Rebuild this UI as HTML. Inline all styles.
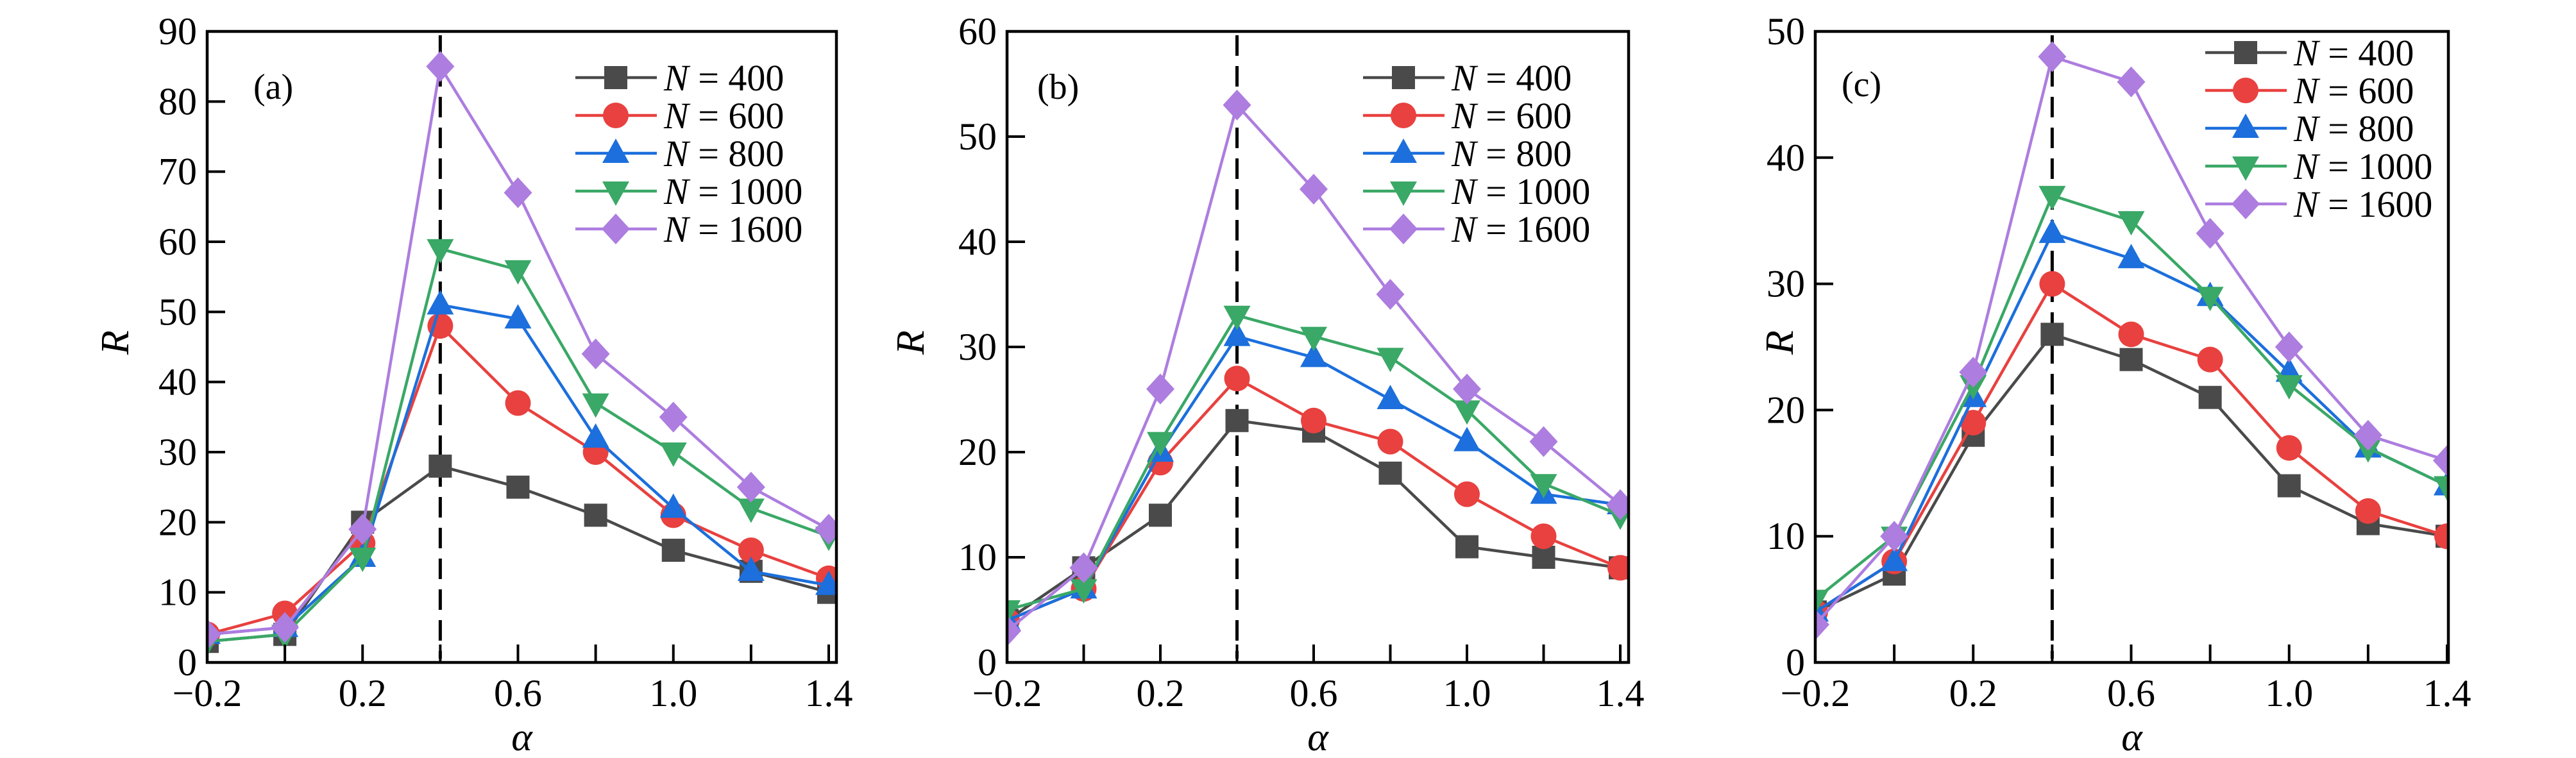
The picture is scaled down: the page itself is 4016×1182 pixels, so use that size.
<!DOCTYPE html>
<html><head><meta charset="utf-8">
<style>
html,body{margin:0;padding:0;background:#fff;}
svg{display:block;font-family:"Liberation Serif","DejaVu Serif",serif;}
</style></head>
<body>
<svg id="fig" width="4016" height="1182" viewBox="0 0 4016 1182" xmlns="http://www.w3.org/2000/svg"></svg>
<script>
const xValues = [-0.2, 0, 0.2, 0.4, 0.6, 0.8, 1.0, 1.2, 1.4];
const seriesNames = ["N = 400", "N = 600", "N = 800", "N = 1000", "N = 1600"];
const nValues = ["400", "600", "800", "1000", "1600"];
const xTickLabels = ["\u22120.2", "0.2", "0.6", "1.0", "1.4"];
const xTickLabelValues = [-0.2, 0.2, 0.6, 1.0, 1.4];
const panelLabels = ["(a)", "(b)", "(c)"];
const yMaxes = [90, 60, 50];
const yTickSteps = [10, 10, 10];
const criticalAlpha = 0.4;
const dataA400 = [3, 4, 20, 28, 25, 21, 16, 13, 10];
const dataA600 = [4, 7, 17, 48, 37, 30, 21, 16, 12];
const dataA800 = [4, 5, 15, 51, 49, 32, 22, 13, 11];
const dataA1000 = [3, 4, 15, 59, 56, 37, 30, 22, 18];
const dataA1600 = [4, 5, 19, 85, 67, 44, 35, 25, 19];
const dataB400 = [4, 9, 14, 23, 22, 18, 11, 10, 9];
const dataB600 = [4, 7, 19, 27, 23, 21, 16, 12, 9];
const dataB800 = [4, 7, 20, 31, 29, 25, 21, 16, 15];
const dataB1000 = [5, 7, 21, 33, 31, 29, 24, 17, 14];
const dataB1600 = [3, 9, 26, 53, 45, 35, 26, 21, 15];
const dataC400 = [4, 7, 18, 26, 24, 21, 14, 11, 10];
const dataC600 = [4, 8, 19, 30, 26, 24, 17, 12, 10];
const dataC800 = [4, 8, 21, 34, 32, 29, 23, 17, 14];
const dataC1000 = [5, 10, 22, 37, 35, 29, 22, 17, 14];
const dataC1600 = [3, 10, 23, 48, 46, 34, 25, 18, 16];

const panelData = [
  [dataA400, dataA600, dataA800, dataA1000, dataA1600],
  [dataB400, dataB600, dataB800, dataB1000, dataB1600],
  [dataC400, dataC600, dataC800, dataC1000, dataC1600]
];
const colors = ["#4a4a4a", "#e8413f", "#1c6fdc", "#3aa866", "#ad7ddf"];
const markers = ["square", "circle", "up", "down", "diamond"];
const layout = [
  {left:323, right:1304, x0:323, x1:1292, legX:897, legY:121, lab:[395,134], rX:180},
  {left:1570, right:2539, x0:1570, x1:2526, legX:2125, legY:121, lab:[1617,134], rX:1420},
  {left:2830, right:3817, x0:2830, x1:3815, legX:3438, legY:82, lab:[2871,130], rX:2775}
];
const TOP = 49, BOT = 1033;
const NS = "http://www.w3.org/2000/svg";
const svg = document.getElementById("fig");
function mk(tag, attrs, parent){
  const e = document.createElementNS(NS, tag);
  for (const k in attrs) e.setAttribute(k, attrs[k]);
  (parent||svg).appendChild(e);
  return e;
}
function drawMarker(g, type, cx, cy, color){
  let e;
  if (type === "square") e = mk("rect", {x:cx-18, y:cy-18, width:36, height:36, fill:color}, g);
  else if (type === "circle") e = mk("circle", {cx:cx, cy:cy, r:20, fill:color}, g);
  else if (type === "up") e = mk("polygon", {points:`${cx},${cy-23} ${cx+21},${cy+15} ${cx-21},${cy+15}`, fill:color}, g);
  else if (type === "down") e = mk("polygon", {points:`${cx},${cy+23} ${cx+21},${cy-15} ${cx-21},${cy-15}`, fill:color}, g);
  else e = mk("polygon", {points:`${cx},${cy-24} ${cx+22},${cy} ${cx},${cy+24} ${cx-22},${cy}`, fill:color}, g);
  return e;
}
layout.forEach((L, p) => {
  const yMax = yMaxes[p];
  const xs = v => L.x0 + (v - (-0.2)) / 1.6 * (L.x1 - L.x0);
  const ys = v => BOT - v / yMax * (BOT - TOP);
  const panel = mk("g", {});
  
  
  const clipId = "clip" + p;
  const cp = mk("clipPath", {id:clipId}, panel);
  mk("rect", {x:L.left, y:TOP, width:L.right-L.left, height:BOT-TOP}, cp);
  const dl = mk("line", {x1:xs(criticalAlpha), x2:xs(criticalAlpha), y1:TOP+6, y2:BOT-6, stroke:"#000", "stroke-width":5, "stroke-dasharray":"32,16"}, panel);
  
  
  const sg = mk("g", {"clip-path":`url(#${clipId})`}, panel);
  panelData[p].forEach((vals, s) => {
    const g = mk("g", {}, sg);
    
    
    const pts = vals.map((v,i) => xs(xValues[i]) + "," + ys(v)).join(" ");
    mk("polyline", {points:pts, fill:"none", stroke:colors[s], "stroke-width":4.5}, g);
    vals.forEach((v,i) => {
      const m = drawMarker(g, markers[s], xs(xValues[i]), ys(v), colors[s]);
      
      
    });
  });
  const fr = mk("rect", {x:L.left, y:TOP, width:L.right-L.left, height:BOT-TOP, fill:"none", stroke:"#000", "stroke-width":4.5}, panel);
  
  
  xValues.forEach(v => {
    const t = mk("line", {x1:xs(v), x2:xs(v), y1:BOT, y2:BOT-28, stroke:"#000", "stroke-width":4}, panel);
    
    
  });
  xTickLabelValues.forEach((v,i) => {
    const t = mk("text", {x:xs(v), y:1101, "font-size":60, "text-anchor":"middle"}, panel);
    t.textContent = xTickLabels[i];
    
    
  });
  for (let v = 0; v <= yMax; v += yTickSteps[p]) {
    const t = mk("line", {x1:L.left, x2:L.left+28, y1:ys(v), y2:ys(v), stroke:"#000", "stroke-width":4}, panel);
    
    
    const tl = mk("text", {x:L.left-16, y:ys(v)+20, "font-size":60, "text-anchor":"end"}, panel);
    tl.textContent = String(v);
    
    
  }
  const xt = mk("text", {x:(L.left+L.right)/2, y:1170, "font-size":62, "font-style":"italic", "text-anchor":"middle"}, panel);
  xt.textContent = "\u03b1";
  
  
  const yt = mk("text", {x:L.rX, y:554, "font-size":62, "font-style":"italic", "text-anchor":"middle", transform:`rotate(-90 ${L.rX} 534)`}, panel);
  yt.textContent = "R";
  
  
  const pl = mk("text", {x:L.lab[0], y:L.lab[1]+20, "font-size":56}, panel);
  pl.textContent = panelLabels[p];
  
  
  const lg = mk("g", {}, panel);
  
  
  seriesNames.forEach((nm, s) => {
    const yy = L.legY + s * 59;
    const e = mk("g", {}, lg);
    
    
    mk("line", {x1:L.legX, x2:L.legX+127, y1:yy, y2:yy, stroke:colors[s], "stroke-width":4.5}, e);
    drawMarker(e, markers[s], L.legX+63, yy, colors[s]);
    const tx = mk("text", {x:L.legX+138, y:yy+20, "font-size":58}, e);
    const ti = mk("tspan", {"font-style":"italic"}, tx);
    ti.textContent = "N";
    const tr = mk("tspan", {}, tx);
    tr.textContent = " = " + nValues[s];
  });
});
</script>
</body></html>
